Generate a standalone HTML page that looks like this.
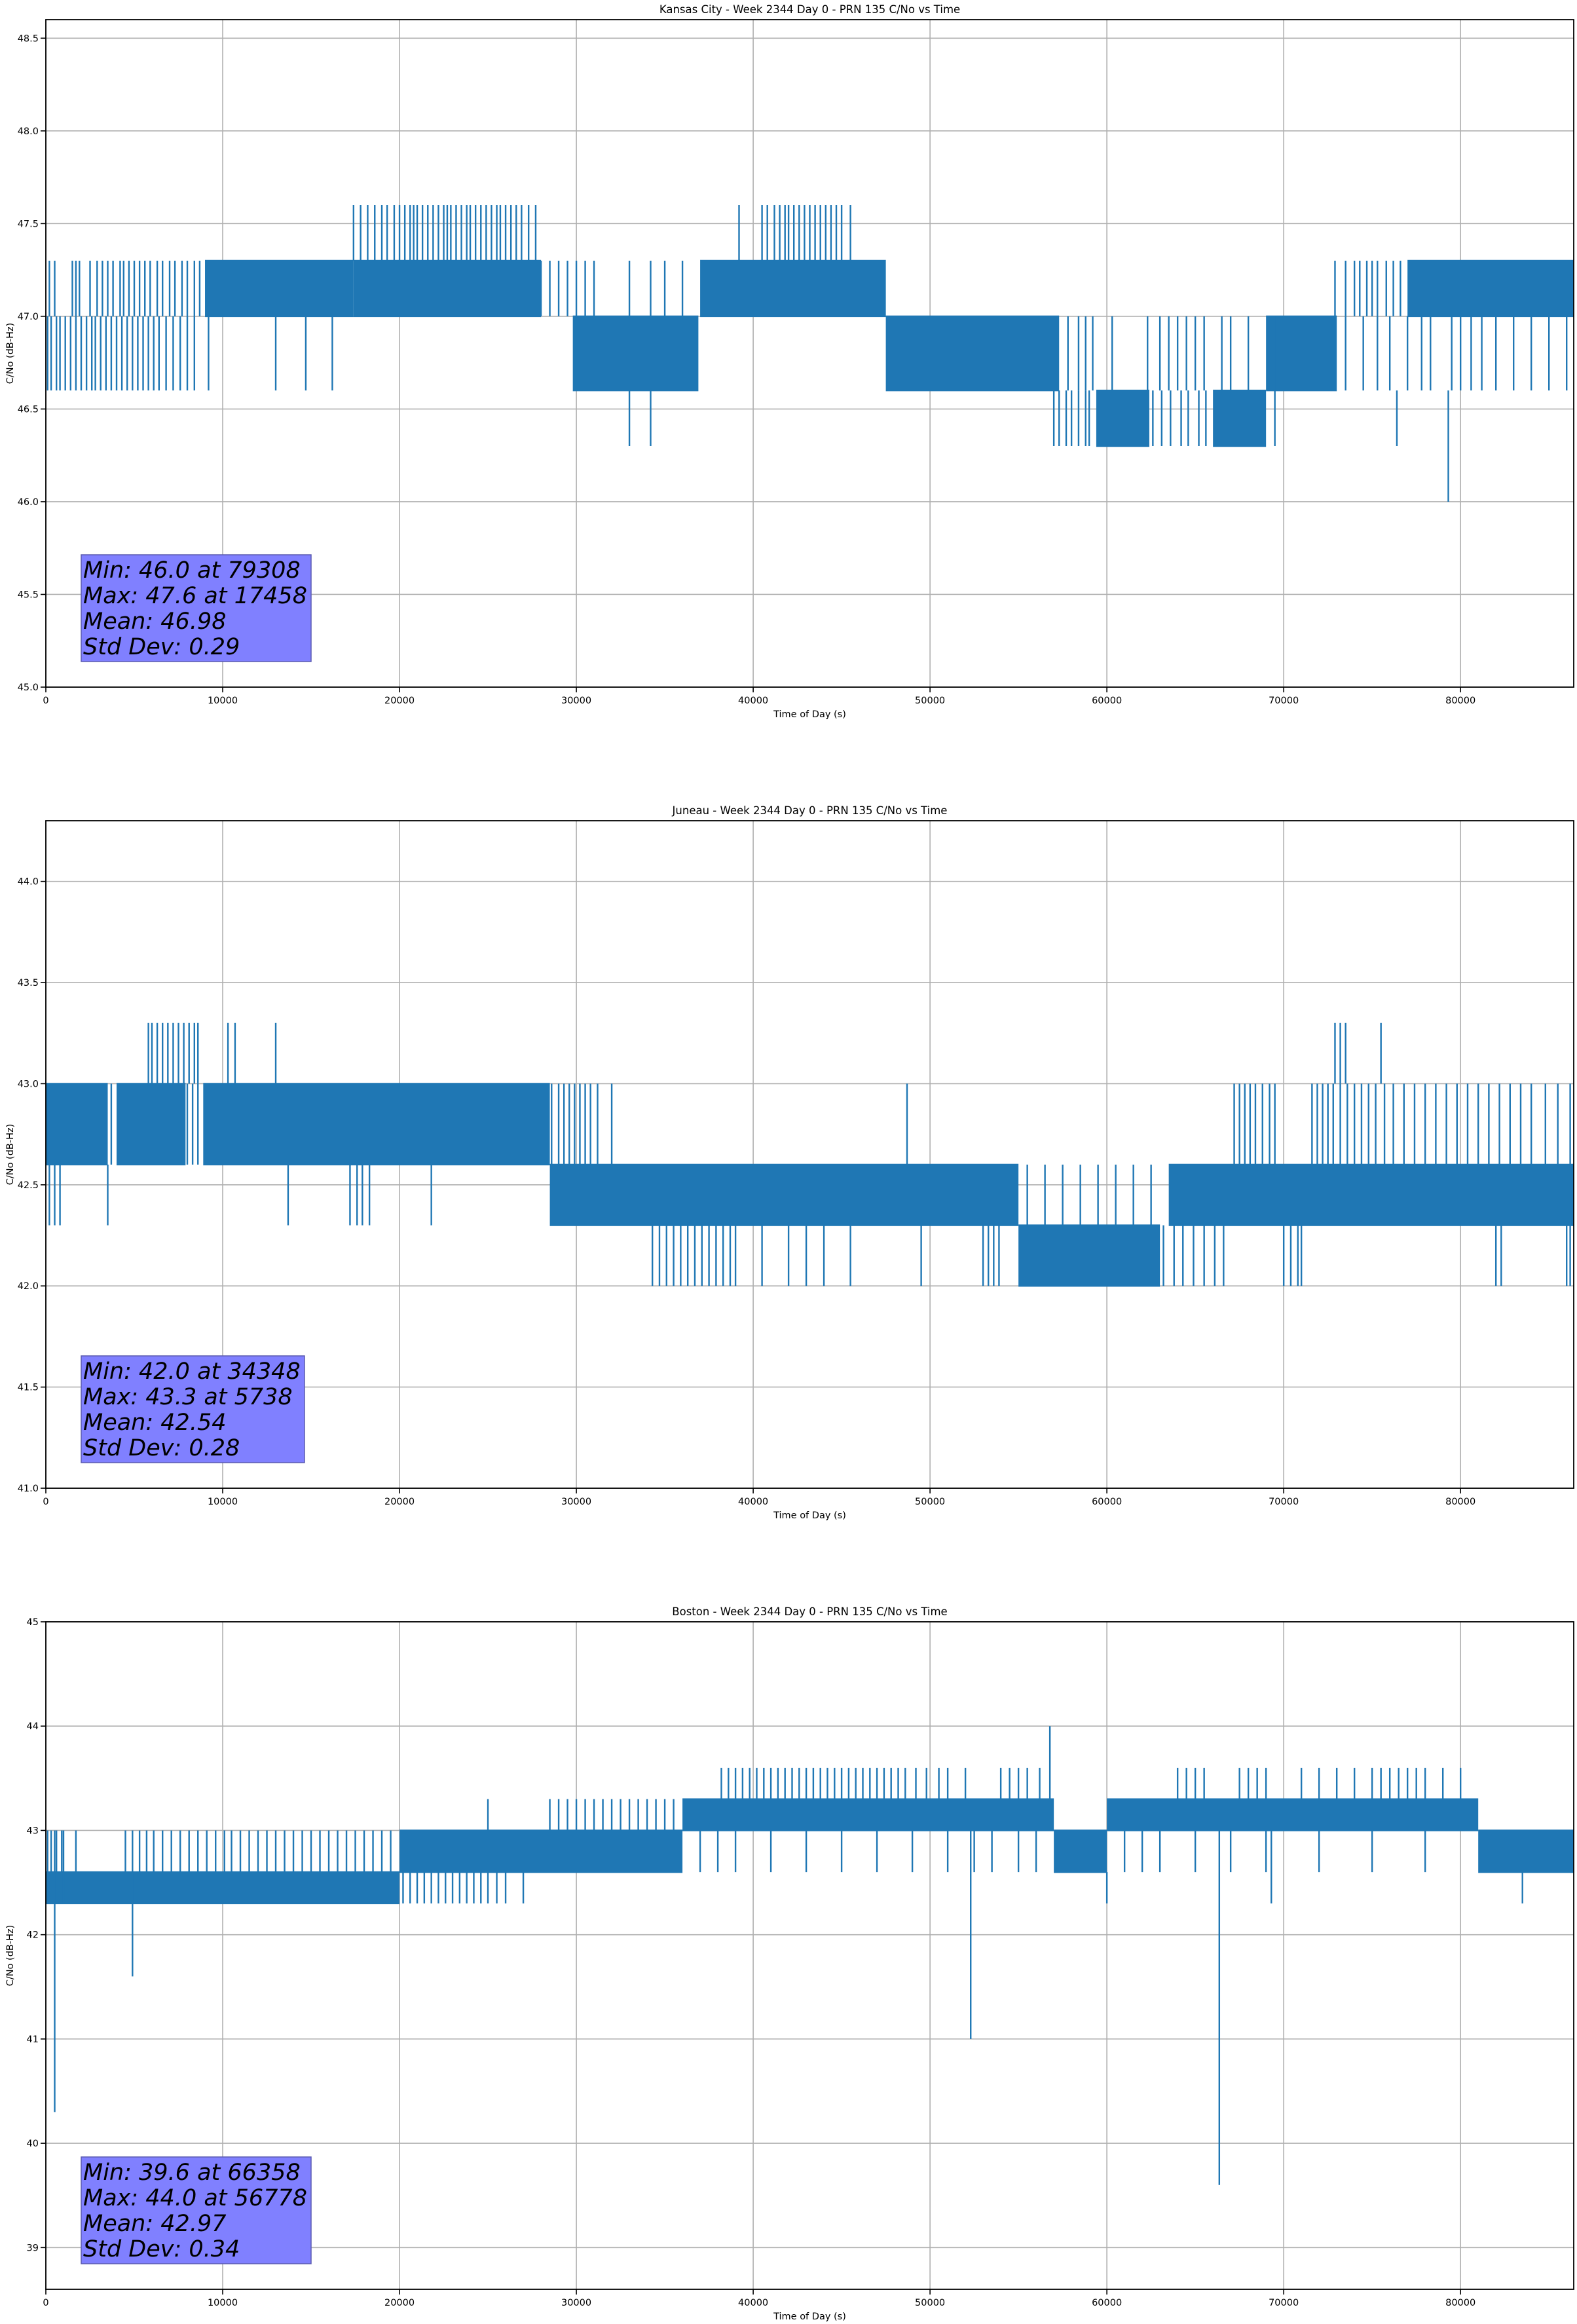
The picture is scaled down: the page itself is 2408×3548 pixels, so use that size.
<!DOCTYPE html>
<html><head><meta charset="utf-8">
<style>
html,body{margin:0;padding:0;background:#fff;}
svg{display:block;}
text{font-family:"DejaVu Sans","Liberation Sans",sans-serif;fill:#000;}
</style></head>
<body>
<svg id="fig" width="2408" height="3548" viewBox="0 0 2408 3548" xmlns="http://www.w3.org/2000/svg"></svg>
<script>
// ---------- Chart 1: Kansas City ----------
const c1Title = "Kansas City - Week 2344 Day 0 - PRN 135 C/No vs Time";
const c1YTicks = [45.0,45.5,46.0,46.5,47.0,47.5,48.0,48.5];
const c1YRange = [45.0,48.6];
const c1Bands = [[9000,17400,47.0,47.3],[17400,28000,47.0,47.3],[29800,36900,46.6,47.0],[37000,47500,47.0,47.3],[47500,57300,46.6,47.0],[59400,62400,46.3,46.6],[66000,69000,46.3,46.6],[69000,73000,46.6,47.0],[77000,86400,47.0,47.3]];
const c1TicksA = [200,500,1500,1700,1900,2500,2900,3200,3500,3800,4200,4400,4700,5000,5300,5600,5900,6300,6600,7000,7300,7700,8000,8400,8700,28000,28500,29000,29500,30000,30500,31000,33000,34200,35000,36000,72900,73500,74000,74300,74700,75000,75300,75800,76200,76600];
const c1TicksAR = [47.0,47.3];
const c1TicksB = [100,300,600,800,1100,1400,1700,2000,2300,2600,2800,3100,3400,3700,4000,4300,4600,4900,5200,5500,5800,6100,6400,6800,7200,7600,8000,8400,9200,13000,14700,16200,57800,58400,58800,59200,60300,62300,63000,63500,64000,64500,65000,65500,66500,67000,68000,69500,73500,74500,75300,76000,77000,77800,78300,79500,80000,80600,81200,82000,83000,84000,85000,86000];
const c1TicksBR = [46.6,47.0];
const c1TicksC = [17400,17800,18200,18600,19000,19300,19700,20000,20300,20600,20800,21000,21300,21600,21900,22200,22500,22700,22900,23200,23500,23800,24000,24300,24600,24900,25200,25500,25700,26000,26300,26600,26900,27300,27700,39200,40500,40800,41200,41500,41800,42000,42300,42600,42900,43200,43500,43800,44100,44400,44700,45000,45500];
const c1TicksCR = [47.3,47.6];
const c1TicksD = [57000,57300,57700,58000,58400,58800,59000,62600,63100,63600,64200,64600,65200,65600,69500,76400,33000,34200];
const c1TicksDR = [46.3,46.6];
const c1Spikes = [[79308,46.0,46.6]];
const c1Stats = ["Min: 46.0 at 79308","Max: 47.6 at 17458","Mean: 46.98","Std Dev: 0.29"];

// ---------- Chart 2: Juneau ----------
const c2Title = "Juneau - Week 2344 Day 0 - PRN 135 C/No vs Time";
const c2YTicks = [41.0,41.5,42.0,42.5,43.0,43.5,44.0];
const c2YRange = [41.0,44.3];
const c2Bands = [[0,3500,42.6,43.0],[4000,7900,42.6,43.0],[8900,28500,42.6,43.0],[28500,55000,42.3,42.6],[55000,63000,42.0,42.3],[63500,86400,42.3,42.6]];
const c2TicksA = [5800,6000,6300,6600,6900,7200,7500,7800,8100,8400,8600,10300,10700,13000,72900,73200,73500,75500];
const c2TicksAR = [43.0,43.3];
const c2TicksB = [200,500,800,3500,13700,17200,17600,17900,18300,21800,55500,56500,57500,58500,59500,60500,61500,62500];
const c2TicksBR = [42.3,42.6];
const c2TicksC = [3700,8000,8300,8600,28600,29000,29300,29600,29900,30200,30500,30800,31200,32000,48700,67200,67500,67800,68100,68400,68800,69200,69500,71600,71900,72200,72500,72800,73200,73600,74000,74400,74800,75200,75700,76200,76800,77400,78000,78600,79200,79800,80400,81000,81600,82200,82800,83400,84000,84800,85500,86200];
const c2TicksCR = [42.6,43.0];
const c2TicksD = [34300,34700,35100,35500,35900,36300,36700,37100,37500,37900,38300,38700,39000,40500,42000,43000,44000,45500,49500,53000,53300,53600,53900,63200,63800,64300,64900,65500,66100,66600,70000,70400,70800,71000,82000,82300,86000,86200];
const c2TicksDR = [42.0,42.3];
const c2Spikes = [];
const c2Stats = ["Min: 42.0 at 34348","Max: 43.3 at 5738","Mean: 42.54","Std Dev: 0.28"];

// ---------- Chart 3: Boston ----------
const c3Title = "Boston - Week 2344 Day 0 - PRN 135 C/No vs Time";
const c3YTicks = [39,40,41,42,43,44,45];
const c3YRange = [38.6,45.0];
const c3Bands = [[0,20000,42.3,42.6],[20000,36000,42.6,43.0],[36000,57000,43.0,43.3],[57000,60000,42.6,43.0],[60000,81000,43.0,43.3],[81000,86400,42.6,43.0]];
const c3TicksA = [100,300,600,900,1700,4500,4900,5300,5700,6100,6600,7100,7600,8100,8600,9100,9600,10100,10500,11000,11500,12000,12500,13000,13500,14000,14500,15000,15500,16000,16500,17000,17500,18000,18500,19000,19500,37000,38000,39000,41000,43000,45000,47000,49000,51000,52500,53500,55000,56000,61000,62000,63000,65000,67000,69000,72000,75000,78000];
const c3TicksAR = [42.6,43.0];
const c3TicksB = [20200,20600,21000,21400,21800,22200,22600,23000,23400,23800,24200,24600,25000,25500,26000,27000];
const c3TicksBR = [42.3,42.6];
const c3TicksC = [25000,28500,29000,29500,30000,30500,31000,31500,32000,32500,33000,33500,34000,34500,35000,35500];
const c3TicksCR = [43.0,43.3];
const c3TicksD = [38200,38600,39000,39400,39800,40200,40600,41000,41400,41800,42200,42600,43000,43400,43800,44200,44600,45000,45400,45800,46200,46600,47000,47400,47800,48200,48600,49200,49800,50500,51000,52000,54000,54500,55000,55500,56200,64000,64500,65000,65500,67500,68000,68500,69000,71000,72000,73000,74000,75000,75500,76000,76500,77000,77500,78000,79000,80000];
const c3TicksDR = [43.3,43.6];
const c3Spikes = [[500,40.3,43.0],[1000,42.3,43.0],[4900,41.6,42.6],[52300,41.0,43.0],[56778,43.3,44.0],[60000,42.3,42.6],[66358,39.6,43.0],[69300,42.3,43.0],[83500,42.3,42.6]];
const c3Stats = ["Min: 39.6 at 66358","Max: 44.0 at 56778","Mean: 42.97","Std Dev: 0.34"];

const xTicks = [0,10000,20000,30000,40000,50000,60000,70000,80000];
const xRange = [0,86400];

const NS = "http://www.w3.org/2000/svg";
const svg = document.getElementById('fig');
const L = 70, R = 2403, H = 1019;
const COLOR = "#1f77b4";

function mk(tag, attrs, parent){
  const e = document.createElementNS(NS, tag);
  for (const k in attrs) e.setAttribute(k, attrs[k]);
  parent.appendChild(e);
  return e;
}

function drawChart(idx, title, yTicks, yRange, bands, tickGroups, spikes, stats, decimals){
  const top = 30 + idx*1223, bot = top + H;
  const g = mk('g', {}, svg);
  
  
  const xs = v => L + (v - xRange[0])/(xRange[1]-xRange[0])*(R-L);
  const ys = v => bot - (v - yRange[0])/(yRange[1]-yRange[0])*H;

  xTicks.forEach(t => {
    const ln = mk('line', {x1:xs(t),x2:xs(t),y1:top,y2:bot,stroke:'#b0b0b0','stroke-width':1.6}, g);
    
    
  });
  yTicks.forEach(t => {
    const ln = mk('line', {x1:L,x2:R,y1:ys(t),y2:ys(t),stroke:'#b0b0b0','stroke-width':1.6}, g);
    
    
  });

  const dg = mk('g', {}, g);
  
  
  bands.forEach(b => {
    const r = mk('rect', {x:xs(b[0]), y:ys(b[3])-1.2, width:xs(b[1])-xs(b[0]), height:ys(b[2])-ys(b[3])+2.4, fill:COLOR}, dg);
    
    
  });
  tickGroups.forEach(tg => {
    tg[0].forEach(t => {
      const ln = mk('line', {x1:xs(t),x2:xs(t),y1:ys(tg[1][0]),y2:ys(tg[1][1]),stroke:COLOR,'stroke-width':2.4}, dg);
      
      
    });
  });
  spikes.forEach(s => {
    const ln = mk('line', {x1:xs(s[0]),x2:xs(s[0]),y1:ys(s[1]),y2:ys(s[2]),stroke:COLOR,'stroke-width':2.4}, dg);
    
    
  });

  const fr = mk('rect', {x:L,y:top,width:R-L,height:H,fill:'none',stroke:'#000','stroke-width':1.8}, g);
  
  

  xTicks.forEach(t => {
    mk('line', {x1:xs(t),x2:xs(t),y1:bot,y2:bot+8,stroke:'#000','stroke-width':1.6}, g);
    const tx = mk('text', {x:xs(t), y:bot+25, 'font-size':14.5, 'text-anchor':'middle'}, g);
    tx.textContent = String(t);
    
    
  });
  yTicks.forEach(t => {
    mk('line', {x1:L-8,x2:L,y1:ys(t),y2:ys(t),stroke:'#000','stroke-width':1.6}, g);
    const tx = mk('text', {x:L-11, y:ys(t)+5, 'font-size':14.5, 'text-anchor':'end'}, g);
    tx.textContent = t.toFixed(decimals);
    
    
  });

  const tt = mk('text', {x:(L+R)/2, y:top-10, 'font-size':16.5, 'text-anchor':'middle'}, g);
  tt.textContent = title;
  
  

  const xl = mk('text', {x:(L+R)/2, y:bot+46, 'font-size':14.5, 'text-anchor':'middle'}, g);
  xl.textContent = "Time of Day (s)";
  
  

  const yl = mk('text', {x:0, y:0, 'font-size':14.5, 'text-anchor':'middle', transform:`translate(20,${(top+bot)/2}) rotate(-90)`}, g);
  yl.textContent = "C/No (dB-Hz)";
  
  

  const bw = idx===1 ? 341 : 351;
  const box = mk('rect', {x:124, y:bot-202, width:bw, height:163, fill:'#8080ff', stroke:'#5a5ab0', 'stroke-width':1.5}, g);
  
  
  stats.forEach((s,i) => {
    const st = mk('text', {x:127, y:bot-202+35+i*39, 'font-size':35, 'font-style':'italic'}, g);
    st.textContent = s;
    
    
  });
}

drawChart(0, c1Title, c1YTicks, c1YRange, c1Bands,
  [[c1TicksA,c1TicksAR],[c1TicksB,c1TicksBR],[c1TicksC,c1TicksCR],[c1TicksD,c1TicksDR]], c1Spikes, c1Stats, 1);
drawChart(1, c2Title, c2YTicks, c2YRange, c2Bands,
  [[c2TicksA,c2TicksAR],[c2TicksB,c2TicksBR],[c2TicksC,c2TicksCR],[c2TicksD,c2TicksDR]], c2Spikes, c2Stats, 1);
drawChart(2, c3Title, c3YTicks, c3YRange, c3Bands,
  [[c3TicksA,c3TicksAR],[c3TicksB,c3TicksBR],[c3TicksC,c3TicksCR],[c3TicksD,c3TicksDR]], c3Spikes, c3Stats, 0);
</script>
</body></html>
